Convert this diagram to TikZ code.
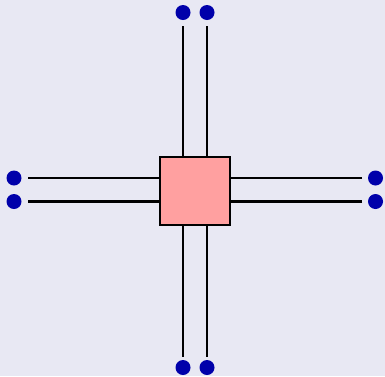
\documentclass[tikz,border=0pt]{standalone}
\begin{document}
\begin{tikzpicture}[x=1pt,y=-1pt,
  wire/.style={line width=2.8pt},
  pin/.style={circle,fill=pinblue,draw=none,minimum size=15pt,inner sep=0pt},
  block/.style={draw=black,line width=2pt,fill=blockpink,minimum width=70pt,minimum height=68pt,inner sep=0pt}]
\definecolor{bg}{HTML}{E8E8F3}
\definecolor{pinblue}{HTML}{0000AA}
\definecolor{blockpink}{HTML}{FFA0A0}
\useasboundingbox[fill=bg] (0,0) rectangle (385,376);
% central block
\node[block] (c) at (195,191) {};
% terminals
\node[pin] (t1) at (183,12.5) {};
\node[pin] (t2) at (207,12.5) {};
\node[pin] (b1) at (183,367.5) {};
\node[pin] (b2) at (207,367.5) {};
\node[pin] (l1) at (14,178) {};
\node[pin] (l2) at (14,201.5) {};
\node[pin] (r1) at (375.5,178) {};
\node[pin] (r2) at (375.5,201.5) {};
% free wire ends next to the terminals
\coordinate (t1e) at (183,26);
\coordinate (t2e) at (207,26);
\coordinate (b1e) at (183,356.5);
\coordinate (b2e) at (207,356.5);
\coordinate (l1e) at (28,178);
\coordinate (l2e) at (28,201.5);
\coordinate (r1e) at (362,178);
\coordinate (r2e) at (362,201.5);
% wires into the block
\begin{scope}[on background layer/.try]
\foreach \e in {t1e,t2e}{\draw[wire] (\e) -- (\e |- c.north);}
\foreach \e in {b1e,b2e}{\draw[wire] (\e) -- (\e |- c.south);}
\foreach \e in {l1e,l2e}{\draw[wire] (\e) -- (\e -| c.west);}
\foreach \e in {r1e,r2e}{\draw[wire] (\e) -- (\e -| c.east);}
\end{scope}
\end{tikzpicture}
\end{document}
